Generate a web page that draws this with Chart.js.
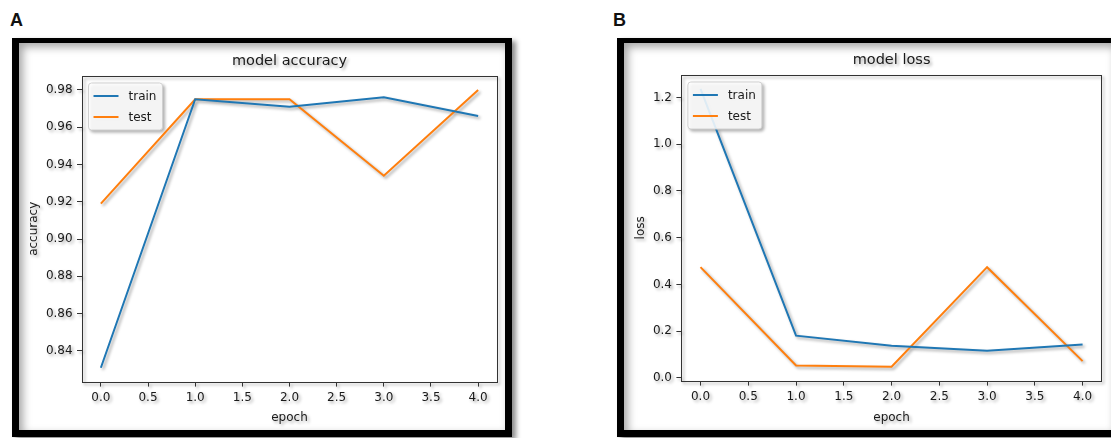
<!DOCTYPE html>
<html>
<head>
<meta charset="utf-8"/>
<title>model accuracy / model loss</title>
<script src="https://cdn.jsdelivr.net/npm/chart.js"></script>
<style>
  html, body { margin: 0; padding: 0; overflow: hidden; background: #fff; }
  body { position: relative; width: 1111px; height: 438px; font-family: "Liberation Sans", Arial, sans-serif; }
  .letter { position: absolute; top: 11px; font-size: 18px; font-weight: bold; line-height: 18px; color: #111; }
  .frame { position: absolute; top: 38px; height: 399px; box-sizing: border-box;
           border: 7px solid #000; border-top-width: 5px; background: #fff;
           box-shadow: 4px 3px 5px rgba(0,0,0,0.45), inset 4px 4px 9px rgba(0,0,0,0.35); }
  canvas { position: absolute; top: 0; filter: drop-shadow(2px 2px 1.5px rgba(0,0,0,0.35)); }
</style>
</head>
<body>
  <div class="letter" style="left:10px">A</div>
  <div class="letter" style="left:613px">B</div>
  <div class="frame" style="left:12px; width:500px"></div>
  <div class="frame" style="left:617px; width:501px"></div>
  <canvas id="accChart" width="555" height="438" style="left:0; width:555px; height:438px"></canvas>
  <canvas id="lossChart" width="556" height="438" style="left:555px; width:556px; height:438px"></canvas>

  <script type="text/javascript">
    // values
    const epochs = [0, 1, 2, 3, 4];
    const accTrain = [0.831, 0.975, 0.971, 0.976, 0.966];
    const accTest = [0.919, 0.975, 0.975, 0.934, 0.980];
    const lossTrain = [1.237, 0.181, 0.138, 0.116, 0.143];
    const lossTest = [0.474, 0.053, 0.048, 0.474, 0.072];
    const seriesNames = ['train', 'test'];

    // tick positions
    const epochTicks = [0, 0.5, 1, 1.5, 2, 2.5, 3, 3.5, 4];
    const accTicks = [0.84, 0.86, 0.88, 0.90, 0.92, 0.94, 0.96, 0.98];
    const lossTicks = [0, 0.2, 0.4, 0.6, 0.8, 1.0, 1.2];

    const FONT = '"DejaVu Sans", Verdana, sans-serif';
    const TEXT = '#1a1a1a';
    const COLORS = ['#1f77b4', '#ff7f0e'];

    // matplotlib style 5% margins around the data
    function padRange(values) {
      const lo = Math.min(...values), hi = Math.max(...values);
      const m = (hi - lo) * 0.05;
      return [lo - m, hi + m];
    }

    // axes box on four sides + upper-left legend, like pyplot
    const mplFrame = {
      id: 'mplFrame',
      afterDatasetsDraw(chart) {
        const { ctx, chartArea: a } = chart;
        ctx.save();
        ctx.strokeStyle = '#333';
        ctx.lineWidth = 1;
        ctx.strokeRect(Math.round(a.left) + 0.5, Math.round(a.top) + 0.5,
                       Math.round(a.right - a.left), Math.round(a.bottom - a.top));

        const x0 = a.left + 6.5, y0 = a.top + 7;
        ctx.beginPath();
        ctx.roundRect(x0, y0, 74, 47, 3);
        ctx.fillStyle = 'rgba(255,255,255,0.85)';
        ctx.fill();
        ctx.strokeStyle = '#d0d0d0';
        ctx.stroke();

        ctx.font = '12px ' + FONT;
        ctx.textBaseline = 'middle';
        chart.data.datasets.forEach((ds, i) => {
          const y = y0 + 13 + i * 21;
          ctx.beginPath();
          ctx.moveTo(x0 + 5, y);
          ctx.lineTo(x0 + 30, y);
          ctx.strokeStyle = ds.borderColor;
          ctx.lineWidth = 2;
          ctx.stroke();
          ctx.fillStyle = TEXT;
          ctx.fillText(ds.label, x0 + 40, y + 0.5);
        });
        ctx.restore();
      }
    };

    function buildChart(id, cfg) {
      const yRange = padRange(cfg.series[0].concat(cfg.series[1]));
      const tickFont = { family: FONT, size: 12 };
      const gridStyle = { drawOnChartArea: false, drawTicks: true, tickLength: 5,
                          color: '#333', tickColor: '#333', tickWidth: 1 };
      return new Chart(document.getElementById(id), {
        type: 'line',
        data: {
          datasets: cfg.series.map((vals, i) => ({
            label: seriesNames[i],
            data: epochs.map((e, j) => ({ x: e, y: vals[j] })),
            borderColor: COLORS[i],
            borderWidth: 2,
            pointRadius: 0,
            tension: 0,
            fill: false
          }))
        },
        options: {
          responsive: false,
          animation: false,
          events: [],
          layout: { padding: cfg.padding },
          plugins: {
            legend: { display: false },
            tooltip: { enabled: false },
            title: {
              display: true,
              text: cfg.title,
              fullSize: false,
              color: TEXT,
              font: { family: FONT, size: 14.5, weight: 'normal' },
              padding: { top: 8, bottom: 5.6 }
            }
          },
          scales: {
            x: {
              type: 'linear',
              min: -0.2,
              max: 4.2,
              afterBuildTicks: s => { s.ticks = epochTicks.map(v => ({ value: v })); },
              afterFit: s => { s.height = cfg.xHeight; },
              ticks: { callback: v => v.toFixed(1), padding: 4, color: TEXT, font: tickFont,
                       maxRotation: 0, autoSkip: false },
              grid: gridStyle,
              border: { display: false },
              title: { display: true, text: 'epoch', color: TEXT, font: tickFont,
                       padding: { top: 0, bottom: 3 } }
            },
            y: {
              type: 'linear',
              min: yRange[0],
              max: yRange[1],
              afterBuildTicks: s => { s.ticks = cfg.yTicks.map(v => ({ value: v })); },
              afterFit: s => { s.width = cfg.yWidth; },
              ticks: { callback: v => v.toFixed(cfg.digits), padding: 4.4, color: TEXT, font: tickFont,
                       autoSkip: false },
              grid: gridStyle,
              border: { display: false },
              title: { display: true, text: cfg.yTitle, color: TEXT, font: tickFont,
                       padding: { top: 7, bottom: 0 } }
            }
          }
        },
        plugins: [mplFrame]
      });
    }

    buildChart('accChart', {
      title: 'model accuracy',
      yTitle: 'accuracy',
      series: [accTrain, accTest],
      yTicks: accTicks,
      digits: 2,
      padding: { left: 20, right: 58, top: 45, bottom: 10 },
      yWidth: 62,
      xHeight: 46.4
    });

    buildChart('lossChart', {
      title: 'model loss',
      yTitle: 'loss',
      series: [lossTrain, lossTest],
      yTicks: lossTicks,
      digits: 1,
      padding: { left: 72, right: 9.3, top: 44, bottom: 10 },
      yWidth: 54.4,
      xHeight: 47.4
    });
  </script>
</body>
</html>
